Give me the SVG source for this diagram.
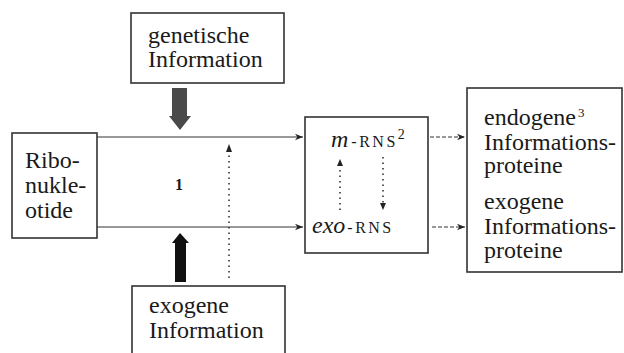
<svg xmlns="http://www.w3.org/2000/svg" width="624" height="353" viewBox="0 0 624 353">
<style>
.box{fill:#fff;stroke:#333;stroke-width:1.6}
.ln{stroke:#333;stroke-width:1;fill:none}
.dash{stroke:#333;stroke-width:1;fill:none;stroke-dasharray:4 2}
.dot{stroke:#333;stroke-width:1.6;fill:none;stroke-dasharray:1.5 4}
</style>
<defs>
<marker id="ah" viewBox="0 0 10 10" refX="10" refY="5" markerWidth="8" markerHeight="8" markerUnits="userSpaceOnUse" orient="auto">
<path d="M0,1 L10,5 L0,9 L3,5 z" fill="#222"/>
</marker>
</defs>
<g id="node-genetische">
<rect class="box" x="131" y="13" width="153" height="70"/>
<text x="148" y="43" font-family="Liberation Serif" font-size="24" fill="#1a1a1a">genetische</text>
<text x="148" y="67" font-family="Liberation Serif" font-size="24" fill="#1a1a1a">Information</text>
</g>
<g id="node-ribonukleotide">
<rect class="box" x="12" y="133" width="85" height="105"/>
<text x="25" y="168" font-family="Liberation Serif" font-size="24" fill="#1a1a1a">Ribo-</text>
<text x="25" y="193" font-family="Liberation Serif" font-size="24" fill="#1a1a1a">nukle-</text>
<text x="25" y="218" font-family="Liberation Serif" font-size="24" fill="#1a1a1a">otide</text>
</g>
<g id="node-rns">
<rect class="box" x="305" y="117" width="123" height="136"/>
<text x="331" y="147" font-family="Liberation Serif" font-size="24" fill="#1a1a1a"><tspan font-style="italic">m</tspan><tspan font-size="16" letter-spacing="2.5" dx="3">-RNS</tspan><tspan font-size="14" dy="-8">2</tspan></text>
<text x="312" y="233" font-family="Liberation Serif" font-size="24" fill="#1a1a1a"><tspan font-style="italic">exo</tspan><tspan font-size="16" letter-spacing="2.5" dx="2">-RNS</tspan></text>
</g>
<g id="node-proteine">
<rect class="box" x="467" y="88" width="155" height="184"/>
<text x="484" y="125" font-family="Liberation Serif" font-size="24" fill="#1a1a1a">endogene<tspan font-size="13" dx="2" dy="-8">3</tspan></text>
<text x="484" y="150" font-family="Liberation Serif" font-size="24" fill="#1a1a1a">Informations-</text>
<text x="484" y="173" font-family="Liberation Serif" font-size="24" fill="#1a1a1a">proteine</text>
<text x="484" y="209" font-family="Liberation Serif" font-size="24" fill="#1a1a1a">exogene</text>
<text x="484" y="234" font-family="Liberation Serif" font-size="24" fill="#1a1a1a">Informations-</text>
<text x="484" y="258" font-family="Liberation Serif" font-size="24" fill="#1a1a1a">proteine</text>
</g>
<g id="node-exogene">
<rect class="box" x="132" y="286" width="153" height="80"/>
<text x="149" y="313" font-family="Liberation Serif" font-size="24" fill="#1a1a1a">exogene</text>
<text x="149" y="338" font-family="Liberation Serif" font-size="24" fill="#1a1a1a">Information</text>
</g>
<g id="label-1">
<text x="175" y="190" font-family="Liberation Serif" font-size="16" font-weight="bold" fill="#1a1a1a">1</text>
</g>
<g id="connectors">
<line class="ln" x1="97" y1="137" x2="303" y2="137" marker-end="url(#ah)"/>
<line class="ln" x1="97" y1="227" x2="303" y2="227" marker-end="url(#ah)"/>
<line class="dot" x1="229" y1="278" x2="229" y2="150"/>
<path d="M229,144 L226,152 L232,152 z" fill="#222"/>
<line class="dash" x1="430" y1="137" x2="465" y2="137" marker-end="url(#ah)"/>
<line class="dash" x1="432" y1="227" x2="465" y2="227" marker-end="url(#ah)"/>
<line class="dot" x1="340" y1="210" x2="340" y2="166" stroke-width="1.3"/>
<path d="M340,159 L337,166 L343,166 z" fill="#222"/>
<line class="dot" x1="383" y1="157" x2="383" y2="203" stroke-width="1.3"/>
<path d="M383,210 L380,203 L386,203 z" fill="#222"/>
<path d="M172,88 L187,88 L187,116 L191,116 L180,130 L169,116 L172,116 z" fill="#4a4a4a"/>
<path d="M180,233 L189,243 L186,243 L186,282 L175,282 L175,243 L172,243 z" fill="#111"/>
</g>
</svg>
